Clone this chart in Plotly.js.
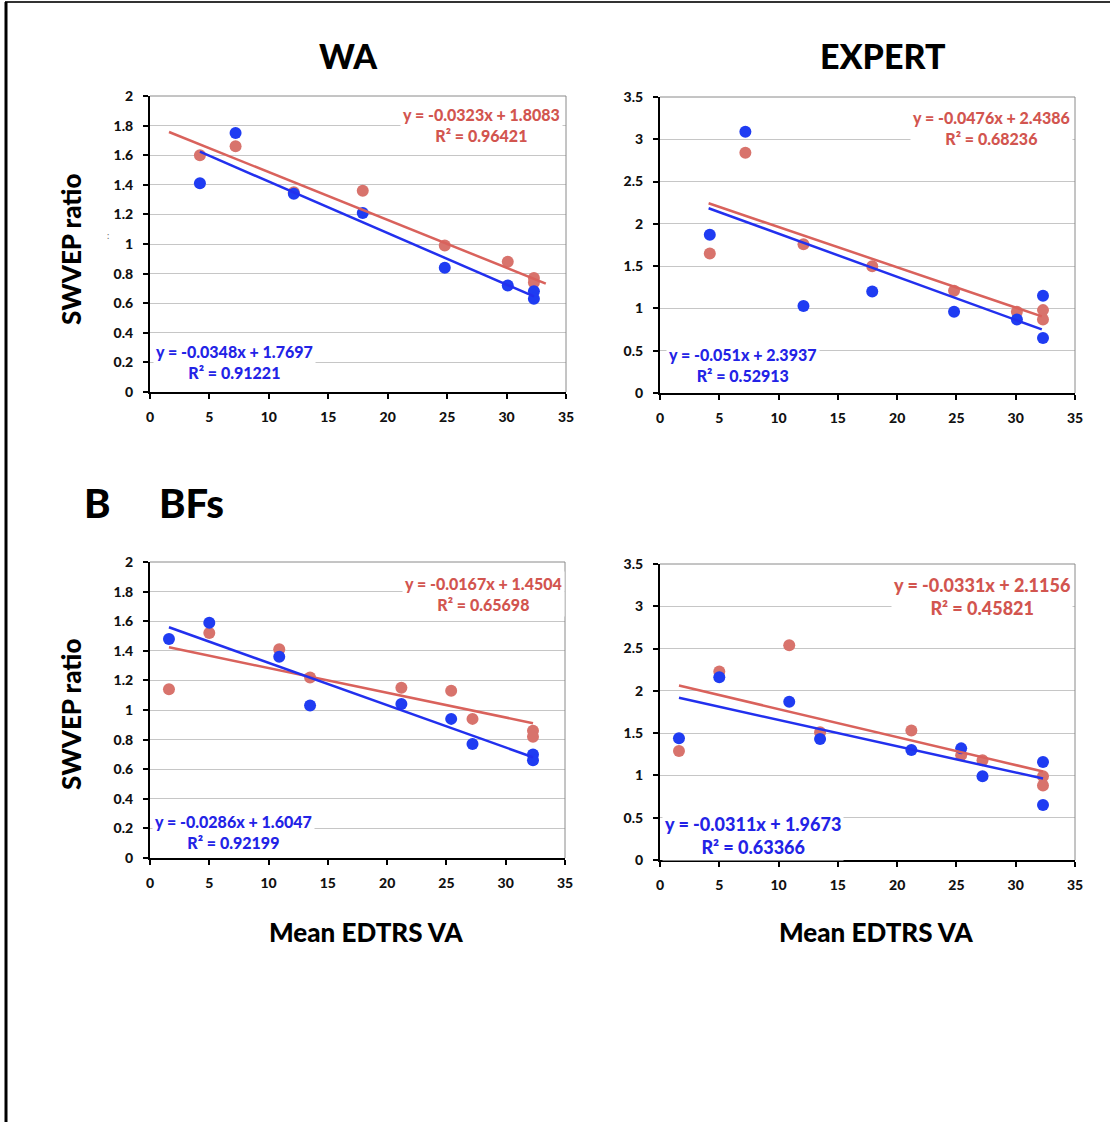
<!DOCTYPE html>
<html><head><meta charset="utf-8">
<script src="https://cdn.plot.ly/plotly-3.0.1.min.js"></script>
<style>html,body{margin:0;padding:0;background:#fff}#chart{width:1110px;height:1122px}</style>
</head><body><div id="chart"></div>
<script>
// ---- data ----
const xTop = [4.2, 7.2, 12.1, 17.9, 24.8, 30.1, 32.3, 32.3];
const waBlue = [1.41, 1.75, 1.34, 1.21, 0.84, 0.72, 0.68, 0.63];
const waRed = [1.60, 1.66, 1.35, 1.36, 0.99, 0.88, 0.77, 0.74];
const expBlue = [1.87, 3.09, 1.03, 1.20, 0.96, 0.87, 1.15, 0.65];
const expRed = [1.65, 2.84, 1.76, 1.50, 1.21, 0.96, 0.98, 0.87];

const xBot = [1.6, 5.0, 10.9, 13.5, 21.2, 25.4, 27.2, 32.3, 32.3];
const bfWaBlue = [1.48, 1.59, 1.36, 1.03, 1.04, 0.94, 0.77, 0.70, 0.66];
const bfWaRed = [1.14, 1.52, 1.41, 1.22, 1.15, 1.13, 0.94, 0.86, 0.82];
const bfExBlue = [1.44, 2.16, 1.87, 1.43, 1.30, 1.32, 0.99, 1.16, 0.65];
const bfExRed = [1.29, 2.23, 2.54, 1.51, 1.53, 1.24, 1.18, 0.99, 0.88];

// trendline equations (slope, intercept, R²) shown on the chart
const blueSlope = [-0.0348, -0.051, -0.0286, -0.0311];
const blueIntercept = [1.7697, 2.3937, 1.6047, 1.9673];
const blueR2 = ["0.91221", "0.52913", "0.92199", "0.63366"];
const redSlope = [-0.0323, -0.0476, -0.0167, -0.0331];
const redIntercept = [1.8083, 2.4386, 1.4504, 2.1156];
const redR2 = ["0.96421", "0.68236", "0.65698", "0.45821"];
const blueTrendX = [[4.2, 32.3], [4.1, 32.2], [1.6, 32.3], [1.6, 32.3]];
const redTrendX = [[1.6, 33.3], [4.1, 32.2], [1.6, 32.3], [1.6, 32.3]];

const yMax = [2, 3.5, 2, 3.5];
const yStep = [0.2, 0.5, 0.2, 0.5];
const panelTitles = ["WA", "EXPERT"];

// ---- styling ----
const FONT = "Lato, 'Open Sans', sans-serif";
const BLUE = "#1f3cf2", RED = "#d8736c";
const BLUE_LINE = "#2230ee", RED_LINE = "#d9625c";
const BLUE_TXT = "#2323e6", RED_TXT = "#d2554f";
const W = 1110, H = 1122;
const px = v => v / W, py = v => 1 - v / H;

const boxes = [
  {x: [150, 566], y: [96, 392]},
  {x: [660, 1075], y: [97, 393]},
  {x: [150, 565], y: [562, 858]},
  {x: [660, 1075], y: [564, 860]}
];

const xs = [xTop, xTop, xBot, xBot];
const blues = [waBlue, expBlue, bfWaBlue, bfExBlue];
const reds = [waRed, expRed, bfWaRed, bfExRed];

const traces = [];
const layout = {
  width: W, height: H,
  margin: {l: 0, r: 0, t: 0, b: 0},
  paper_bgcolor: "#fff", plot_bgcolor: "#fff",
  showlegend: false,
  font: {family: FONT, color: "#1a1a1a"},
  annotations: [], shapes: []
};

const tickFont = {family: FONT, size: 14, color: "#111", weight: 900};

for (let i = 0; i < 4; i++) {
  const n = i === 0 ? "" : String(i + 1);
  const b = boxes[i];
  layout["xaxis" + n] = {
    domain: [px(b.x[0]), px(b.x[1])], anchor: "y" + n,
    range: [0, 35], tick0: 0, dtick: 5,
    showgrid: false, zeroline: false,
    showline: true, linecolor: "#000", linewidth: 2,
    ticks: "outside", ticklen: 5, tickwidth: 2, tickcolor: "#000",
    tickfont: tickFont, ticklabelstandoff: 6, fixedrange: true
  };
  layout["yaxis" + n] = {
    domain: [py(b.y[1]), py(b.y[0])], anchor: "x" + n,
    range: [0, yMax[i]], tick0: 0, dtick: yStep[i],
    showgrid: true, gridcolor: "#c6c6c6", gridwidth: 1,
    zeroline: false,
    showline: true, linecolor: "#000", linewidth: 2,
    ticks: "outside", ticklen: 5, tickwidth: 2, tickcolor: "#000",
    tickfont: tickFont, ticklabelstandoff: 7, fixedrange: true
  };
  // plot-area top/right border
  layout.shapes.push(
    {type: "line", xref: "x" + n + " domain", yref: "y" + n + " domain", x0: 0, x1: 1, y0: 1, y1: 1, line: {color: "#8a8a8a", width: 1}},
    {type: "line", xref: "x" + n + " domain", yref: "y" + n + " domain", x0: 1, x1: 1, y0: 0, y1: 1, line: {color: "#8a8a8a", width: 1}}
  );

  const xa = "x" + n, ya = "y" + n;
  traces.push({type: "scatter", mode: "markers", x: xs[i], y: reds[i], xaxis: xa, yaxis: ya,
    marker: {color: RED, size: 12}, cliponaxis: false, hoverinfo: "skip"});
  traces.push({type: "scatter", mode: "markers", x: xs[i], y: blues[i], xaxis: xa, yaxis: ya,
    marker: {color: BLUE, size: 12}, cliponaxis: false, hoverinfo: "skip"});
  traces.push({type: "scatter", mode: "lines", x: redTrendX[i],
    y: redTrendX[i].map(v => redSlope[i] * v + redIntercept[i]), xaxis: xa, yaxis: ya,
    line: {color: RED_LINE, width: 2.5}, hoverinfo: "skip"});
  traces.push({type: "scatter", mode: "lines", x: blueTrendX[i],
    y: blueTrendX[i].map(v => blueSlope[i] * v + blueIntercept[i]), xaxis: xa, yaxis: ya,
    line: {color: BLUE_LINE, width: 2.5}, hoverinfo: "skip"});
}

// equation labels
const eqPos = [
  {red: [481, 125.5], blue: [234, 362], size: 16},
  {red: [991, 127.5], blue: [743, 364.5], size: 16},
  {red: [483, 593.5], blue: [233, 831.5], size: 16},
  {red: [982, 596.5], blue: [753, 835.5], size: 18}
];
const fmt = (s, c) => "y = " + s + "x + " + c;
for (let i = 0; i < 4; i++) {
  const p = eqPos[i];
  layout.annotations.push({
    xref: "paper", yref: "paper", x: px(p.red[0]), y: py(p.red[1]), xanchor: "center", yanchor: "middle",
    text: fmt(redSlope[i], redIntercept[i]) + "<br>R² = " + redR2[i], align: "center", showarrow: false,
    bgcolor: "#fff", borderpad: 2, font: {family: FONT, size: p.size, color: RED_TXT, weight: 900}
  });
  layout.annotations.push({
    xref: "paper", yref: "paper", x: px(p.blue[0]), y: py(p.blue[1]), xanchor: "center", yanchor: "middle",
    text: fmt(blueSlope[i], blueIntercept[i]) + "<br>R² = " + blueR2[i], align: "center", showarrow: false,
    bgcolor: "#fff", borderpad: 2, font: {family: FONT, size: p.size, color: BLUE_TXT, weight: 900}
  });
}

// titles and labels
const bold = (t, s, x, y, extra) => Object.assign({
  xref: "paper", yref: "paper", x: px(x), y: py(y), xanchor: "center", yanchor: "middle",
  text: t, showarrow: false, font: {family: FONT, size: s, color: "#000", weight: 900}
}, extra || {});
layout.annotations.push(bold(panelTitles[0], 34, 348, 55));
layout.annotations.push(bold(panelTitles[1], 34, 883, 55));
layout.annotations.push(bold("B", 40, 97, 503));
layout.annotations.push(bold("BFs", 40, 191, 503));
layout.annotations.push(bold("SWVEP ratio", 26, 71, 250, {textangle: -90}));
layout.annotations.push(bold("SWVEP ratio", 26, 71, 715, {textangle: -90}));
layout.annotations.push(bold("Mean EDTRS VA", 26, 366, 932));
layout.annotations.push(bold("Mean EDTRS VA", 26, 876, 932));
layout.annotations.push({xref: "paper", yref: "paper", x: px(105), y: py(228), text: ":", showarrow: false,
  font: {family: FONT, size: 9, color: "#666"}});

// outer frame (top and left edges)
layout.shapes.push(
  {type: "line", xref: "paper", yref: "paper", x0: px(5), x1: 1, y0: py(2), y1: py(2), line: {color: "#333", width: 2}},
  {type: "line", xref: "paper", yref: "paper", x0: px(6), x1: px(6), y0: py(2), y1: 0, line: {color: "#000", width: 3}}
);

Plotly.newPlot("chart", traces, layout, {staticPlot: true, displayModeBar: false});
</script></body></html>
